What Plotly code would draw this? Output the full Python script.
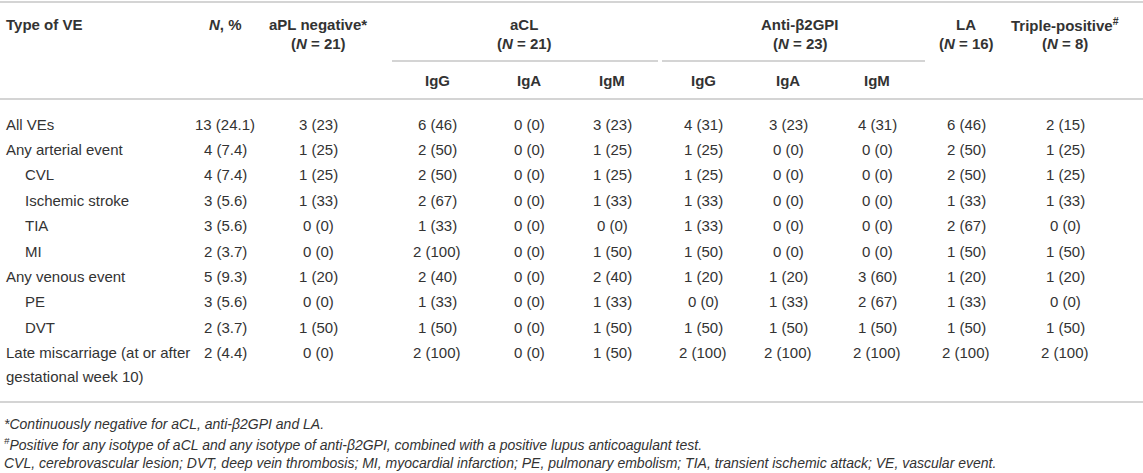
import plotly.graph_objects as go

# table contents
row_labels = ["All VEs", "Any arterial event", "CVL", "Ischemic stroke", "TIA", "MI",
              "Any venous event", "PE", "DVT",
              "Late miscarriage (at or after<br>gestational week 10)"]
indented = [False, False, True, True, True, True, False, True, True, False]

n_pct = ["13 (24.1)", "4 (7.4)", "4 (7.4)", "3 (5.6)", "3 (5.6)", "2 (3.7)", "5 (9.3)", "3 (5.6)", "2 (3.7)", "2 (4.4)"]
apl_negative = ["3 (23)", "1 (25)", "1 (25)", "1 (33)", "0 (0)", "0 (0)", "1 (20)", "0 (0)", "1 (50)", "0 (0)"]
acl_igg = ["6 (46)", "2 (50)", "2 (50)", "2 (67)", "1 (33)", "2 (100)", "2 (40)", "1 (33)", "1 (50)", "2 (100)"]
acl_iga = ["0 (0)", "0 (0)", "0 (0)", "0 (0)", "0 (0)", "0 (0)", "0 (0)", "0 (0)", "0 (0)", "0 (0)"]
acl_igm = ["3 (23)", "1 (25)", "1 (25)", "1 (33)", "0 (0)", "1 (50)", "2 (40)", "1 (33)", "1 (50)", "1 (50)"]
b2gpi_igg = ["4 (31)", "1 (25)", "1 (25)", "1 (33)", "1 (33)", "1 (50)", "1 (20)", "0 (0)", "1 (50)", "2 (100)"]
b2gpi_iga = ["3 (23)", "0 (0)", "0 (0)", "0 (0)", "0 (0)", "0 (0)", "1 (20)", "1 (33)", "1 (50)", "2 (100)"]
b2gpi_igm = ["4 (31)", "0 (0)", "0 (0)", "0 (0)", "0 (0)", "0 (0)", "3 (60)", "2 (67)", "1 (50)", "2 (100)"]
la = ["6 (46)", "2 (50)", "2 (50)", "1 (33)", "2 (67)", "1 (50)", "1 (20)", "1 (33)", "1 (50)", "2 (100)"]
triple_positive = ["2 (15)", "1 (25)", "1 (25)", "1 (33)", "0 (0)", "1 (50)", "1 (20)", "0 (0)", "1 (50)", "2 (100)"]

first_header = "Type of VE"
group_titles = ["<i>N</i>, %", "aPL negative*", "aCL", "Anti-β2GPI", "LA", "Triple-positive<sup>#</sup>"]
group_counts = ["", "(<i>N</i> = 21)", "(<i>N</i> = 21)", "(<i>N</i> = 23)", "(<i>N</i> = 16)", "(<i>N</i> = 8)"]
isotypes = ["IgG", "IgA", "IgM", "IgG", "IgA", "IgM"]

footnotes = [
    "*Continuously negative for aCL, anti-β2GPI and LA.",
    "<sup>#</sup>Positive for any isotype of aCL and any isotype of anti-β2GPI, "
    "combined with a positive lupus anticoagulant test.",
    "CVL, cerebrovascular lesion; DVT, deep vein thrombosis; MI, myocardial infarction; "
    "PE, pulmonary embolism; TIA, transient ischemic attack; VE, vascular event.",
]

columns = [n_pct, apl_negative, acl_igg, acl_iga, acl_igm,
           b2gpi_igg, b2gpi_iga, b2gpi_igm, la, triple_positive]

# layout (pixels)
W, H = 1143, 473
FONT = "Liberation Sans, Arial, Helvetica, sans-serif"
TXT = "#333333"
LINE = "#c6c6c6"
col_x = [225, 318, 437, 529, 612, 703, 788, 877, 966, 1065]
group_x = [225, 318, 524, 800, 966, 1065]
row_y0, row_h, wrap_h = 124, 25.4, 24

annotations = []


def add_text(x, y, text, anchor='center', size=15, bold=False, italic=False):
    if bold:
        text = '<b>{}</b>'.format(text)
    if italic:
        text = '<i>{}</i>'.format(text)
    annotations.append(dict(x=x, y=y, xref='x', yref='y', text=text, showarrow=False,
                            xanchor=anchor, yanchor='middle', align='left',
                            font=dict(family=FONT, size=size, color=TXT)))


# header
add_text(4, 24, first_header, anchor='left', bold=True)
for gx, title, count in zip(group_x, group_titles, group_counts):
    add_text(gx, 24, title, bold=True)
    if count:
        add_text(gx, 43, count, bold=True)
for cx, iso in zip(col_x[2:8], isotypes):
    add_text(cx, 80, iso, bold=True)

# body
for i, label in enumerate(row_labels):
    y = row_y0 + i * row_h
    x = 23 if indented[i] else 4
    for k, part in enumerate(label.split('<br>')):
        add_text(x, y + k * wrap_h, part, anchor='left')
    for cx, col in zip(col_x, columns):
        add_text(cx, y, col[i])

bottom_y = 402

for k, note in enumerate(footnotes):
    add_text(2, 424 + k * 19.5, note, anchor='left', size=14, italic=True)

shapes = []


def add_line(x0, x1, y):
    shapes.append(dict(type='line', xref='x', yref='y', x0=x0, x1=x1, y0=y, y1=y,
                       line=dict(color=LINE, width=1.5)))


add_line(0, W, 2)
add_line(392, 658, 61)
add_line(662, 925, 61)
add_line(0, W, 99)
add_line(0, W, bottom_y)

fig = go.Figure()
fig.update_layout(width=W, height=H, margin=dict(l=0, r=0, t=0, b=0),
                  paper_bgcolor='white', plot_bgcolor='white', showlegend=False,
                  xaxis=dict(range=[0, W], visible=False, fixedrange=True),
                  yaxis=dict(range=[H, 0], visible=False, fixedrange=True),
                  annotations=annotations, shapes=shapes)

# the page body has a default 8px margin; drop it so the table sits at the window corner
fig.write_html("out.html", config={'displayModeBar': False},
               post_script="document.body.style.margin = '0px';")
